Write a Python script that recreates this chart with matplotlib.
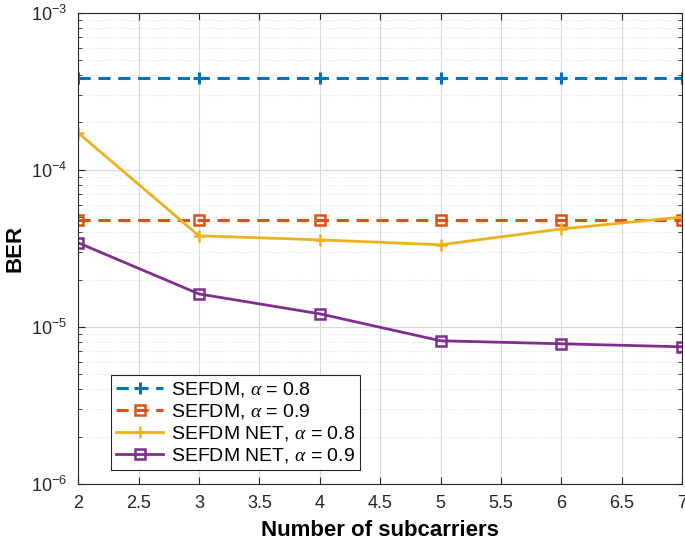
import matplotlib
matplotlib.use("Agg")
import matplotlib.pyplot as plt
from matplotlib.ticker import LogLocator, NullFormatter

plt.rcParams["font.family"] = ["Liberation Sans", "DejaVu Sans"]
plt.rcParams["mathtext.fontset"] = "custom"
plt.rcParams["mathtext.rm"] = "Liberation Sans"
plt.rcParams["mathtext.it"] = "Liberation Serif:italic"

subcarriers = [2, 3, 4, 5, 6, 7]
sefdm_08 = [3.85e-4] * 6
sefdm_09 = [4.8e-5] * 6
net_08 = [1.72e-4, 3.8e-5, 3.58e-5, 3.33e-5, 4.2e-5, 5.0e-5]
net_09 = [3.43e-5, 1.62e-5, 1.21e-5, 8.15e-6, 7.8e-6, 7.46e-6]

xticks = [2, 2.5, 3, 3.5, 4, 4.5, 5, 5.5, 6, 6.5, 7]
xticklabels = ["2", "2.5", "3", "3.5", "4", "4.5", "5", "5.5", "6", "6.5", "7"]

labels = [r"SEFDM, $\alpha$ = 0.8", r"SEFDM, $\alpha$ = 0.9",
          r"SEFDM NET, $\alpha$ = 0.8", r"SEFDM NET, $\alpha$ = 0.9"]

BLUE = "#0072BD"
ORANGE = "#D95319"
YELLOW = "#EDB120"
PURPLE = "#7E2F8E"

fig = plt.figure(figsize=(6.85, 5.53), dpi=100)
ax = fig.add_axes([0.114, 0.125, 0.882, 0.852])

ax.semilogy(subcarriers, sefdm_08, "--+", color=BLUE, lw=2.2, ms=9, mew=2.2,
            dashes=(4, 2.5), label=labels[0])
ax.semilogy(subcarriers, sefdm_09, "--s", color=ORANGE, lw=2.2, ms=7, mew=1.8,
            mfc="none", dashes=(4, 2.5), label=labels[1])
ax.semilogy(subcarriers, net_08, "-+", color=YELLOW, lw=2, ms=9, mew=1.8,
            label=labels[2])
ax.semilogy(subcarriers, net_09, "-s", color=PURPLE, lw=2, ms=7, mew=1.8,
            mfc="none", label=labels[3])

ax.set_xlim(2, 7)
ax.set_ylim(1e-6, 1e-3)
ax.set_xticks(xticks)
ax.set_xticklabels(xticklabels)
ax.yaxis.set_major_locator(LogLocator(base=10, numticks=10))
ax.yaxis.set_minor_locator(LogLocator(base=10, subs=range(2, 10), numticks=20))
ax.yaxis.set_minor_formatter(NullFormatter())

ax.grid(True, which="major", color="#d9d9d9", lw=0.8)
ax.grid(True, which="minor", axis="y", color="#e2e2e2", lw=0.8, linestyle=":")
ax.set_axisbelow(True)

ax.tick_params(which="both", direction="in", top=True, right=True,
               labelsize=13, colors="#262626", pad=8)
ax.tick_params(which="major", length=5)
ax.tick_params(which="minor", length=3)
for s in ax.spines.values():
    s.set_color("#262626")
    s.set_linewidth(0.8)

ax.set_xlabel("Number of subcarriers", fontsize=16, fontweight="bold", labelpad=6)
ax.set_ylabel("BER", fontsize=16, fontweight="bold", labelpad=4)

leg = ax.legend(loc="lower left", bbox_to_anchor=(0.055, 0.03), fontsize=14,
                fancybox=False, edgecolor="#262626", framealpha=1, numpoints=1,
                handlelength=2.4, handletextpad=0.4, borderpad=0.25,
                labelspacing=0.15, borderaxespad=0)
leg.get_frame().set_linewidth(0.8)

fig.savefig("out.png", dpi=100, facecolor="white")
